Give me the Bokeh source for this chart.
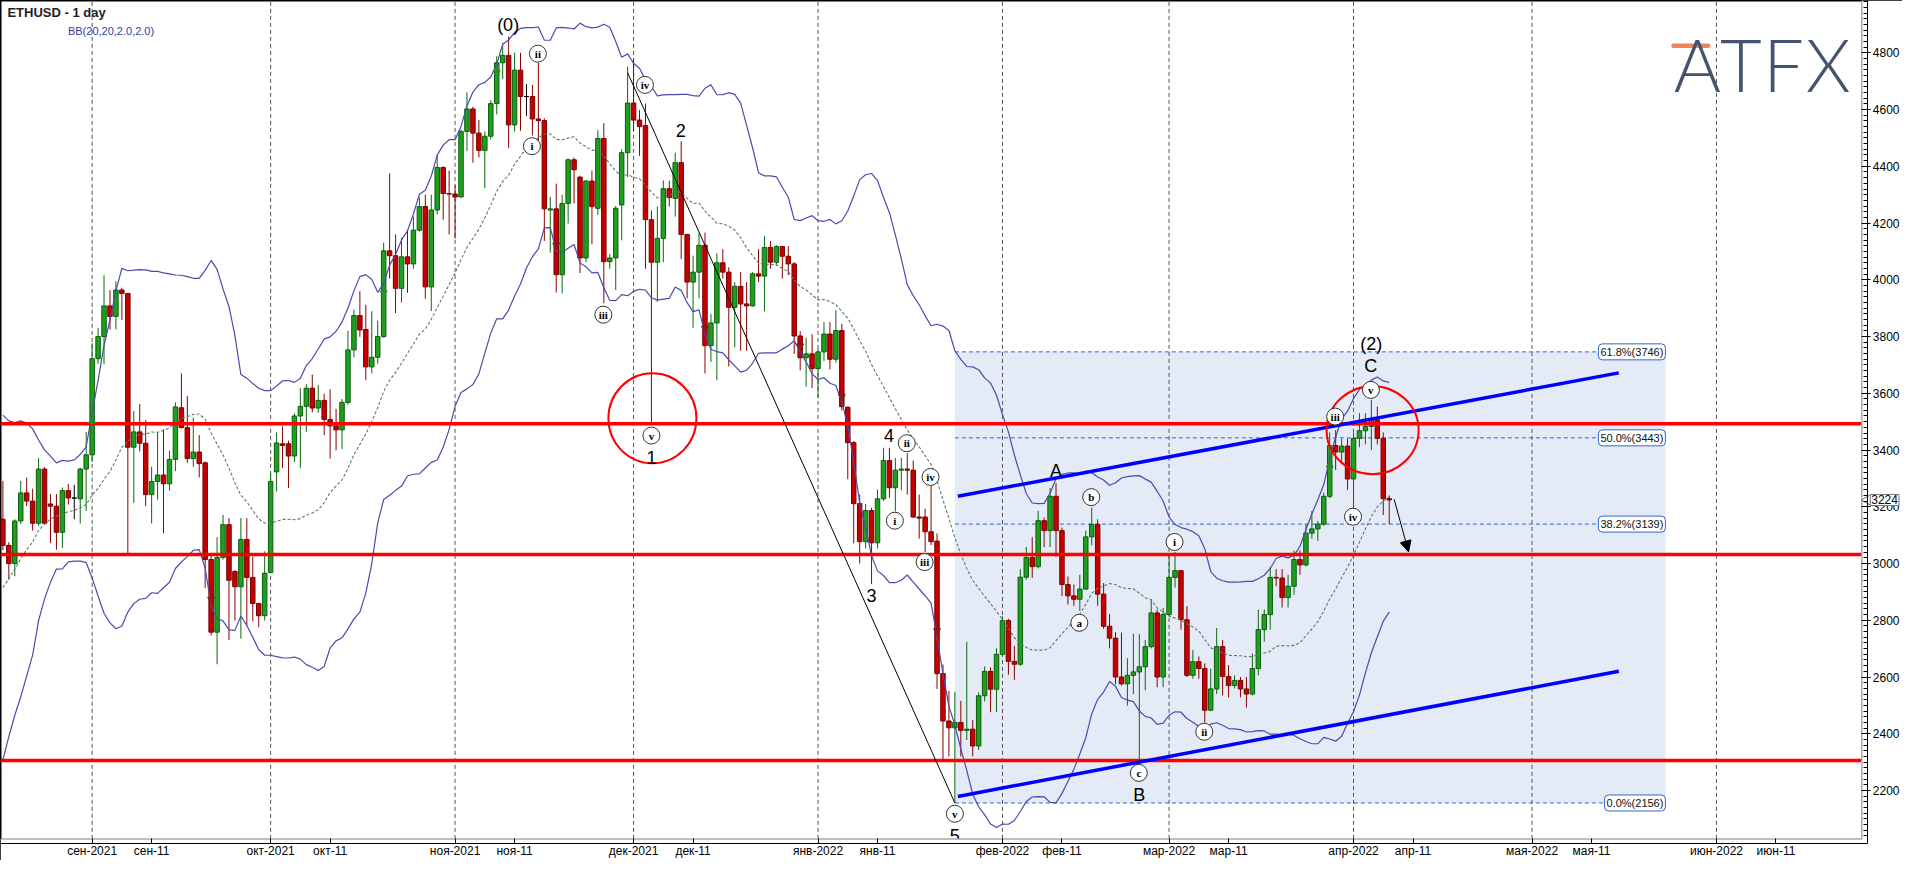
import numpy as np
import pandas as pd
from bokeh.plotting import figure
from bokeh.models import (Range1d, FixedTicker, Label, Arrow, NormalHead, ColumnDataSource,
                          LinearAxis)
from bokeh.core.properties import value
from bokeh.embed import file_html
from bokeh.resources import INLINE

# ---------------- data (daily ETHUSD candles) ----------------
FIRST_DAY = "2021-08-17"
ORIGIN = pd.Timestamp("2021-09-01")

opens = [
    3156, 3064, 3000, 3150, 3249, 3220, 3142, 3333, 3210, 3202, 3110, 3257, 3231, 3228, 3333,
    3383, 3722, 3800, 3908, 3871, 3964, 3952, 3410, 3464, 3424, 3243, 3289, 3312, 3281, 3367,
    3549, 3479, 3370, 3393, 3355, 3014, 2758, 3021, 3137, 2972, 2918, 3085, 2951, 2859, 2816,
    2968, 3323, 3422, 3422, 3379, 3520, 3554, 3618, 3548, 3575, 3508, 3485, 3471, 3568, 3753,
    3874, 3825, 3693, 3727, 3800, 4102, 4085, 3970, 4081, 4056, 4175, 4258, 3975, 4246, 4396, 4304,
    4302, 4292, 4523, 4602, 4517, 4456, 4506, 4621, 4765, 4791, 4546, 4739, 4646, 4646, 4567,
    4561, 4246, 4250, 4018, 4269, 4423, 4362, 4077, 4348, 4252, 4498, 4064, 4077, 4264, 4448,
    4623, 4563, 4544, 4212, 4062, 4146, 4321, 4287, 4413, 4160, 3992, 4027, 4122, 3768, 3848,
    4060, 4027, 3903, 3977, 3915, 3908, 4021, 4013, 4114, 4062, 4117, 4083, 4056, 3802, 3725, 3739,
    3687, 3746, 3809, 3720, 3821, 3551, 3426, 3211, 3077, 3187, 3073, 3228, 3363, 3267, 3329,
    3333, 3329, 3164, 3164, 3112, 3079, 2612, 2445, 2421, 2440, 2412, 2416, 2357, 2534, 2620, 2557,
    2680, 2799, 2655, 2645, 2952, 3021, 2989, 3151, 3116, 3237, 3116, 2926, 2886, 2874,
    2910, 3094, 3138, 2892, 2779, 2737, 2600, 2576, 2606, 2618, 2636, 2707, 2826, 2600,
    2820, 2951, 2975, 2802, 2606, 2654, 2630, 2483, 2558, 2707, 2602, 2570, 2588, 2558, 2540,
    2630, 2767, 2820, 2951, 2949, 2880, 2920, 3014, 2995, 3107, 3122, 3139, 3237, 3416, 3393, 3414,
    3298, 3441, 3468, 3483, 3506, 3441, 3229,
]
highs = [
    3291, 3075, 3156, 3291, 3303, 3264, 3372, 3340, 3245, 3245, 3268, 3280, 3277, 3337, 3464,
    3776, 3831, 4016, 3964, 3995, 3972, 3952, 3537, 3562, 3505, 3341, 3462, 3473, 3397, 3568,
    3670, 3591, 3514, 3453, 3360, 3035, 3093, 3171, 3160, 2977, 3160, 3160, 3024, 2860, 3043,
    3318, 3462, 3483, 3433, 3529, 3618, 3633, 3666, 3629, 3598, 3614, 3545, 3580, 3820, 3895,
    3960, 3912, 3889, 3856, 4131, 4375, 4160, 4148, 4177, 4223, 4290, 4300, 4300, 4442, 4400, 4385,
    4333, 4529, 4661, 4610, 4563, 4523, 4633, 4788, 4834, 4858, 4800, 4800, 4690, 4687, 4765,
    4569, 4292, 4339, 4300, 4427, 4431, 4367, 4352, 4385, 4527, 4552, 4091, 4260, 4460, 4752,
    4779, 4598, 4621, 4244, 4258, 4350, 4349, 4448, 4488, 4160, 4085, 4166, 4166, 3880, 4094,
    4108, 4044, 3992, 4027, 3992, 4027, 4108, 4154, 4137, 4122, 4119, 4119, 4062, 3819, 3796, 3808,
    3757, 3851, 3851, 3893, 3845, 3553, 3432, 3243, 3210, 3196, 3261, 3408, 3408, 3372, 3372,
    3389, 3363, 3243, 3193, 3273, 3106, 2644, 2551, 2548, 2516, 2724, 2449, 2545, 2637, 2634, 2701,
    2814, 2805, 2710, 2980, 3058, 3093, 3185, 3162, 3266, 3283, 3127, 2954, 2926, 2960,
    3116, 3197, 3156, 2931, 2822, 2758, 2756, 2666, 2753, 2751, 2731, 2874, 2838, 2844,
    3029, 3041, 2975, 2850, 2695, 2672, 2648, 2630, 2773, 2731, 2642, 2606, 2600, 2600, 2683,
    2838, 2838, 2987, 2980, 2980, 2960, 3046, 3046, 3140, 3185, 3150, 3250, 3462, 3470, 3440, 3440,
    3460, 3530, 3530, 3577, 3553, 3462, 3240,
]
lows = [
    3047, 2943, 2955, 3139, 3202, 3116, 3133, 3139, 3072, 3049, 3055, 3208, 3156, 3141, 3185,
    3358, 3704, 3702, 3825, 3825, 3858, 3035, 3214, 3395, 3202, 3141, 3225, 3107, 3257, 3326,
    3476, 3355, 3341, 3303, 2914, 2747, 2645, 3014, 2730, 2799, 2735, 2781, 2796, 2776, 2799,
    2966, 3254, 3337, 3266, 3358, 3337, 3464, 3533, 3531, 3453, 3370, 3399, 3404, 3560, 3727,
    3799, 3646, 3670, 3704, 3796, 4004, 3883, 3920, 3954, 4039, 4170, 3933, 3890, 4230, 4212, 4160,
    4145, 4290, 4454, 4413, 4431, 4323, 4494, 4583, 4708, 4465, 4523, 4525, 4578, 4509, 4457,
    4137, 4096, 3955, 3952, 4198, 4269, 4024, 4062, 4125, 4229, 3917, 4039, 3964, 4139, 4362,
    4525, 4437, 4039, 3494, 3923, 4062, 4258, 4223, 4073, 3935, 3831, 3935, 3670, 3710, 3646,
    4004, 3695, 3762, 3750, 3750, 3906, 3992, 3889, 4039, 4050, 4004, 4016, 3739, 3681, 3623, 3619,
    3583, 3714, 3684, 3708, 3540, 3297, 3071, 3000, 3053, 2928, 3053, 3220, 3232, 3184, 3258,
    3243, 3160, 3088, 3041, 3065, 2558, 2308, 2320, 2156, 2320, 2378, 2320, 2343, 2514, 2476, 2476,
    2672, 2608, 2590, 2640, 2943, 2949, 2983, 3058, 3058, 3024, 2885, 2856, 2851, 2833,
    2908, 3064, 2851, 2770, 2701, 2574, 2570, 2499, 2539, 2300, 2553, 2701, 2564, 2564,
    2814, 2915, 2767, 2600, 2594, 2594, 2439, 2480, 2540, 2535, 2528, 2560, 2528, 2492, 2535,
    2606, 2725, 2767, 2920, 2845, 2845, 2890, 2960, 2990, 3087, 3080, 3133, 3230, 3330, 3350, 3260,
    3200, 3410, 3420, 3400, 3420, 3171, 3139,
]
closes = [
    3064, 3000, 3150, 3249, 3220, 3142, 3333, 3142, 3202, 3110, 3257, 3231, 3231, 3333, 3383,
    3722, 3800, 3908, 3871, 3964, 3952, 3410, 3464, 3424, 3243, 3289, 3312, 3281, 3367, 3552,
    3479, 3370, 3393, 3352, 3014, 2758, 3021, 3137, 2941, 2918, 3085, 2951, 2859, 2816, 2966,
    3289, 3425, 3416, 3379, 3520, 3554, 3618, 3548, 3575, 3508, 3485, 3471, 3568, 3753, 3874,
    3823, 3693, 3727, 3800, 4102, 4085, 3970, 4081, 4056, 4175, 4258, 3975, 4246, 4396, 4304, 4302,
    4292, 4523, 4602, 4517, 4456, 4506, 4621, 4765, 4791, 4546, 4739, 4646, 4646, 4567, 4561,
    4250, 4250, 4018, 4269, 4423, 4388, 4077, 4348, 4258, 4498, 4064, 4077, 4252, 4448, 4623,
    4563, 4540, 4212, 4062, 4146, 4321, 4290, 4413, 4160, 3992, 4027, 4122, 3768, 3848, 4060,
    4027, 3903, 3977, 3915, 3908, 4021, 4013, 4114, 4062, 4117, 4083, 4056, 3802, 3725, 3739, 3687,
    3746, 3809, 3720, 3821, 3553, 3426, 3211, 3077, 3187, 3073, 3228, 3363, 3267, 3329, 3333,
    3329, 3164, 3160, 3112, 3077, 2612, 2445, 2421, 2440, 2412, 2416, 2357, 2534, 2620, 2557, 2680,
    2799, 2655, 2645, 2952, 3021, 2989, 3151, 3116, 3237, 3116, 2926, 2886, 2874, 2910,
    3094, 3138, 2892, 2779, 2737, 2600, 2576, 2606, 2618, 2636, 2707, 2826, 2600, 2820,
    2951, 2975, 2802, 2606, 2654, 2630, 2483, 2558, 2707, 2602, 2570, 2588, 2558, 2540, 2630,
    2767, 2820, 2951, 2949, 2880, 2920, 3014, 2995, 3107, 3122, 3139, 3237, 3416, 3393, 3414, 3298,
    3441, 3468, 3483, 3506, 3441, 3229, 3224,
]
# closes of the 19 days before the first candle (needed to seed the 20-day bands)
pre_closes = [2380, 2460, 2540, 2560, 2610, 2510, 2725, 2830, 2890, 3160,
              3010, 3165, 3140, 3165, 3050, 3320, 3270, 3310, 3150]

# x-axis ticks (date, label)
tick_dates = ["2021-09-01", "2021-09-11", "2021-10-01", "2021-10-11", "2021-11-01", "2021-11-11",
              "2021-12-01", "2021-12-11", "2022-01-01", "2022-01-11", "2022-02-01", "2022-02-11",
              "2022-03-01", "2022-03-11", "2022-04-01", "2022-04-11", "2022-05-01", "2022-05-11",
              "2022-06-01", "2022-06-11"]
tick_labels = ["сен-2021", "сен-11", "окт-2021", "окт-11", "ноя-2021", "ноя-11", "дек-2021", "дек-11",
               "янв-2022", "янв-11", "фев-2022", "фев-11", "мар-2022", "мар-11", "апр-2022", "апр-11",
               "мая-2022", "мая-11", "июн-2022", "июн-11"]
y_ticks = list(range(2200, 4801, 200))

# support / resistance levels
red_levels = [3493, 3032, 2306]

# Fibonacci retracement box
fib_left, fib_right = "2022-01-24", "2022-05-23 10:00"
fib_values = [3746, 3443, 3139, 2156]
fib_labels = ["61.8%(3746)", "50.0%(3443)", "38.2%(3139)", "0.0%(2156)"]

# channel lines (start / end)
chan_dates = ["2022-01-24 12:00", "2022-05-15 14:00"]
chan_upper = [3237, 3672]
chan_lower = [2179, 2620]

# trend line from the Dec high to the Jan low
trend_dates = ["2021-11-30", "2022-01-24"]
trend_prices = [4730, 2156]

# projected move arrow
arrow_dates = ["2022-04-07 20:00", "2022-04-10 06:00"]
arrow_prices = [3226, 3041]

# red circles
ring_dates = ["2021-12-04 04:00", "2022-04-04 05:00"]
ring_prices = [3512, 3470]

# wave labels
wave_text = ["(0)", "1", "2", "3", "4", "5", "A", "B", "C", "(2)"]
wave_dates = ["2021-11-09 22:00", "2021-12-04", "2021-12-08 22:00", "2022-01-10", "2022-01-12 22:00",
              "2022-01-24", "2022-02-10", "2022-02-24", "2022-04-03 22:00", "2022-04-04"]
wave_prices = [4898, 3375, 4525, 2888, 3450, 2043, 3327, 2185, 3695, 3773]

sub_text = ["ii", "i", "iii", "iv", "v", "ii", "iv", "i", "iii", "v",
            "b", "a", "i", "ii", "c", "iii", "iv", "v"]
sub_dates = ["2021-11-14 22:00", "2021-11-13 22:00", "2021-11-25 22:00", "2021-12-02 22:00", "2021-12-04",
             "2022-01-15 22:00", "2022-01-19 22:00", "2022-01-13 22:00", "2022-01-18 22:00", "2022-01-24",
             "2022-02-15 22:00", "2022-02-13 22:00", "2022-03-01 22:00", "2022-03-06 22:00", "2022-02-23 22:00",
             "2022-03-28 22:00", "2022-03-31 22:00", "2022-04-03 22:00"]
sub_prices = [4797, 4471, 3877, 4687, 3451, 3424, 3305, 3151, 3005, 2118,
              3234, 2791, 3076, 2407, 2262, 3518, 3165, 3612]

# small signal arrows
sig_up_dates = ["2021-09-01", "2021-10-20", "2021-11-08", "2022-03-28"]
sig_up_prices = [3502, 3964, 4742, 3347]
sig_dn_dates = ["2021-09-21", "2021-11-18", "2021-12-13", "2021-12-29", "2022-01-05", "2022-01-21"]
sig_dn_prices = [2874, 4122, 3829, 3767, 3589, 2763]

last_price = 3224

# logo letters and their centres (reference pixels)
logo_letters = ["A", "T", "F", "X"]
logo_px = [1711, 1755, 1798, 1843]

# ---------------- helpers ----------------
def day(s):
    return (pd.Timestamp(s) - ORIGIN) / pd.Timedelta(days=1)

def days(lst):
    return [day(s) for s in lst]

# the whole canvas is one frame; reference pixel (0..1918, 0..876) -> data
REF_W, REF_H = 1918.0, 876.0
X_START = (0 - 92.4) / 6.0
X_END = (REF_W - 92.4) / 6.0
Y_TOP = 4800 + 53.3 / 0.289
Y_BOT = 4800 - (REF_H - 53.3) / 0.289

def rx(px):
    return X_START + px / REF_W * (X_END - X_START)

def ry(py):
    return Y_TOP - py / REF_H * (Y_TOP - Y_BOT)

PLOT_R = rx(1877)     # right edge of the price area
PLOT_B = ry(854)      # bottom edge of the price area
YAX_X = rx(1883)      # price axis line
XAX_Y = ry(858.5)     # time axis line

FONT = "Liberation Sans"

# ---------------- derived ----------------
dates = pd.date_range(FIRST_DAY, periods=len(closes), freq="D")
xd = np.array([(d - ORIGIN).days for d in dates], dtype=float)
o = np.array(opens, float); h = np.array(highs, float)
l = np.array(lows, float); c = np.array(closes, float)

allc = pd.Series(pre_closes + closes, dtype=float)
mid = allc.rolling(20).mean().values[-len(closes):]
sd = allc.rolling(20).std(ddof=0).values[-len(closes):]
upper = mid + 2 * sd
lower = mid - 2 * sd

up = c > o
dn = c < o
body_fill = np.where(up, "#1f9e1f", np.where(dn, "#c40000", "#000000"))
body_line = np.where(up, "#0b5f0b", np.where(dn, "#7a0000", "#000000"))
wick_col = np.where(up, "#0b6a0b", np.where(dn, "#8b0000", "#000000"))

candles = ColumnDataSource(dict(x=xd, top=np.maximum(o, c), bottom=np.minimum(o, c),
                                high=h, low=l, fill=body_fill, line=body_line, wick=wick_col))

# ---------------- figure ----------------
p = figure(width=1902, height=860, x_range=Range1d(X_START, X_END), y_range=Range1d(Y_BOT, Y_TOP),
           x_axis_location=None, y_axis_location=None, output_backend="svg", toolbar_location=None,
           min_border_left=0, min_border_top=0, min_border_right=0, min_border_bottom=0,
           background_fill_color="white", border_fill_color="white",
           outline_line_color="#000000", outline_line_width=2)
p.xgrid.visible = False
p.ygrid.visible = False

# Fibonacci box
fl, fr = day(fib_left), day(fib_right)
p.quad(left=[fl], right=[fr], bottom=[fib_values[-1]], top=[fib_values[0]],
       fill_color="#e4eaf6", line_color=None)

# month grid lines
month_days = [day(d) for d, t in zip(tick_dates, tick_labels) if "-20" in t]
p.segment(x0=month_days, x1=month_days, y0=[PLOT_B] * len(month_days), y1=[Y_TOP] * len(month_days),
          line_color="#555555", line_width=1, line_dash="4 3")

# fib level lines
p.segment(x0=[fl] * 4, x1=[fr] * 4, y0=fib_values, y1=fib_values,
          line_color="#3366cc", line_width=1, line_dash="4 3")

# candles
p.segment(x0="x", x1="x", y0="low", y1="high", line_color="wick", line_width=1, source=candles)
p.vbar(x="x", width=0.75, top="top", bottom="bottom", fill_color="fill", line_color="line",
       line_width=1, source=candles)

# Bollinger bands
p.line(xd, upper, line_color="#4b4bab", line_width=1.2)
p.line(xd, lower, line_color="#4b4bab", line_width=1.2)
p.line(xd, mid, line_color="#5c7a6c", line_width=1.1, line_dash="3 2")

# red levels
p.segment(x0=[X_START] * 3, x1=[PLOT_R] * 3, y0=red_levels, y1=red_levels,
          line_color="#ff0000", line_width=3.5)

# blue channel
cd = days(chan_dates)
p.line(cd, chan_upper, line_color="#0000ff", line_width=3.5)
p.line(cd, chan_lower, line_color="#0000ff", line_width=3.5)

# trend line
p.line(days(trend_dates), trend_prices, line_color="#000000", line_width=1)

# signal arrows
p.scatter(days(sig_up_dates), sig_up_prices, marker="triangle", size=7,
          fill_color="#2c8c2c", line_color="#2c8c2c")
p.scatter(days(sig_dn_dates), sig_dn_prices, marker="inverted_triangle", size=7,
          fill_color="#8b1a1a", line_color="#8b1a1a")

# red rings
p.ellipse(x=days(ring_dates), y=ring_prices, width=[88, 92], height=[90, 88],
          width_units="screen", height_units="screen", fill_color=None,
          line_color="#ff0000", line_width=2)

# wave labels
p.text(x=days(wave_dates), y=wave_prices, text=wave_text, text_font=value(FONT),
       text_font_size="18px", text_color="#000000", text_align="center", text_baseline="middle")

sd_x = days(sub_dates)
p.scatter(sd_x, sub_prices, marker="circle", size=17, fill_color="white",
          line_color="#333333", line_width=1)
p.text(x=sd_x, y=sub_prices, text=sub_text, text_font=value("Liberation Serif"),
       text_font_style="bold", text_font_size="11px", text_color="#000000",
       text_align="center", text_baseline="middle")

# white strips outside the price area (time-axis band and price-axis band)
p.quad(left=[X_START], right=[X_END], bottom=[Y_BOT], top=[PLOT_B], fill_color="white", line_color=None)
p.quad(left=[PLOT_R], right=[X_END], bottom=[Y_BOT], top=[Y_TOP], fill_color="white", line_color=None)

# price-area border (grey)
p.line([X_START, PLOT_R, PLOT_R], [PLOT_B, PLOT_B, Y_TOP], line_color="#a9a9a9", line_width=1.5)

# projected arrow
ad = days(arrow_dates)
p.add_layout(Arrow(end=NormalHead(size=11, fill_color="black", line_color="black"),
                   x_start=ad[0], y_start=arrow_prices[0], x_end=ad[1], y_end=arrow_prices[1],
                   line_color="black", line_width=1))

# fib labels
for v, t in zip(fib_values, fib_labels):
    p.add_layout(Label(x=fr, y=v, text=t, text_align="right", text_baseline="middle",
                       text_font=FONT, text_font_size="11px", text_color="#111111",
                       background_fill_color="white", border_line_color="#3366cc",
                       border_line_width=1, padding=2, border_radius=4))

# title, indicator, logo
p.add_layout(Label(x=rx(7), y=ry(12), text="ETHUSD - 1 day", text_font=FONT, text_font_size="13px",
                   text_font_style="bold", text_color="#222222", text_baseline="middle"))
p.add_layout(Label(x=rx(68), y=ry(31), text="BB(20,20,2.0,2.0)", text_font=FONT,
                   text_font_size="11px", text_color="#3a3aa0", text_baseline="middle"))
for letter, px in zip(logo_letters, logo_px):
    p.add_layout(Label(x=rx(px), y=ry(65), text=letter, text_font="'Lato Light', Lato, sans-serif",
                       text_font_size="72px", text_color="#44546e", text_align="center",
                       text_baseline="alphabetic"))
p.segment(x0=[rx(1687)], x1=[rx(1722)], y0=[ry(46)], y1=[ry(46)], line_color="#f0845a",
          line_width=4.5, line_cap="round")

# axes (placed at fixed positions inside the canvas)
yax = LinearAxis(fixed_location=YAX_X, bounds=(XAX_Y, Y_TOP))
yax.ticker = FixedTicker(ticks=y_ticks, minor_ticks=list(range(2040, 4981, 20)))
yax.major_tick_in = 6
yax.major_tick_out = 3
yax.minor_tick_in = 4
yax.minor_tick_out = 0
yax.major_label_standoff = 2
yax.axis_line_color = "black"
yax.major_tick_line_color = "black"
yax.minor_tick_line_color = "black"
yax.major_label_text_font = FONT
yax.major_label_text_font_size = "12px"
yax.major_label_text_color = "#000000"
p.add_layout(yax, "right")

xax = LinearAxis(fixed_location=XAX_Y, bounds=(X_START, YAX_X))
xax.ticker = FixedTicker(ticks=days(tick_dates), minor_ticks=[])
xax.major_label_overrides = {day(d): t for d, t in zip(tick_dates, tick_labels)}
xax.major_tick_in = 5
xax.major_tick_out = 0
xax.major_label_standoff = 1
xax.axis_line_color = "black"
xax.major_tick_line_color = "black"
xax.major_label_text_font = FONT
xax.major_label_text_font_size = "12px"
xax.major_label_text_color = "#000000"
p.add_layout(xax, "below")

# current price marker on the axis (pointer + boxed value)
p.scatter([rx(1883)], [last_price], marker="triangle", angle=np.pi / 2, size=11,
          fill_color="white", line_color="#777777", line_width=1)
p.add_layout(Label(x=rx(1885.5), y=last_price, text=str(last_price), text_font=FONT,
                   text_font_size="12px", text_color="#000000", text_align="left",
                   text_baseline="middle", background_fill_color="white",
                   border_line_color="#777777", padding=1))

open("out.html", "w").write(file_html(p, INLINE))
